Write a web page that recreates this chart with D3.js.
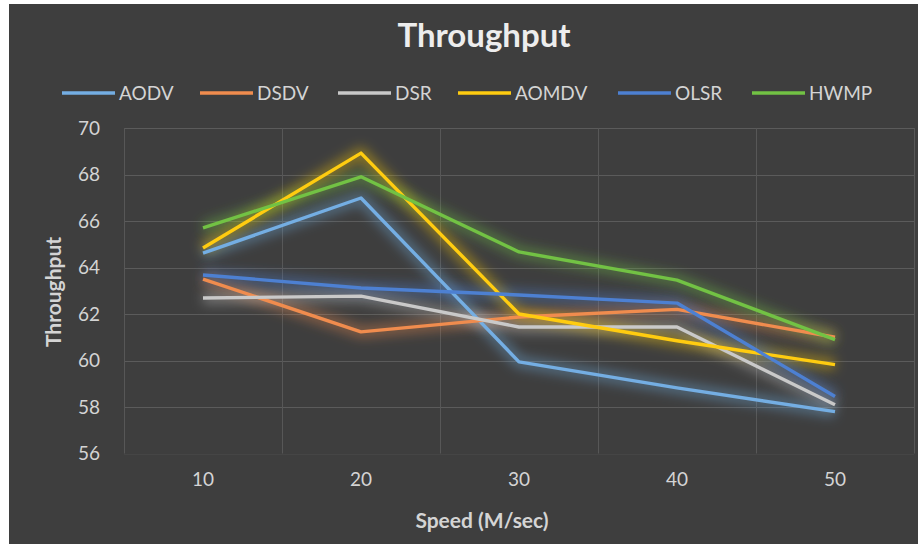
<!DOCTYPE html>
<html>
<head>
<meta charset="utf-8">
<script src="https://cdn.jsdelivr.net/npm/d3@7"></script>
<style>
html,body{margin:0;padding:0;background:#ffffff;}
svg{display:block;}
text{font-family:Lato,"Open Sans",sans-serif;}
</style>
</head>
<body>
<svg id="chart" width="918" height="546"></svg>
<script>
const categories = ["10", "20", "30", "40", "50"];
const seriesNames = ["AODV", "DSDV", "DSR", "AOMDV", "OLSR", "HWMP"];
const aodv  = [64.62, 66.99, 59.94, 58.82, 57.8];
const dsdv  = [63.5, 61.23, 61.87, 62.2, 61.0];
const dsr   = [62.69, 62.77, 61.44, 61.44, 58.1];
const aomdv = [64.84, 68.92, 62.0, 60.85, 59.82];
const olsr  = [63.68, 63.12, 62.82, 62.47, 58.45];
const hwmp  = [65.7, 67.9, 64.67, 63.46, 60.9];
const yTicks = [56, 58, 60, 62, 64, 66, 68, 70];
const colors = ["#74aee3", "#f08c4e", "#c9c9c9", "#ffcc10", "#4d80d2", "#72c244"];

const seriesValues = [aodv, dsdv, dsr, aomdv, olsr, hwmp];
const series = seriesNames.map((n, i) => ({name: n, values: seriesValues[i], color: colors[i]}));

const svg = d3.select("#chart");
const defs = svg.append("defs");
const f = defs.append("filter").attr("id", "glow")
  .attr("x", "-20%").attr("y", "-30%").attr("width", "140%").attr("height", "160%");
f.append("feGaussianBlur").attr("stdDeviation", 6);

// background
svg.append("rect").attr("x", 9).attr("y", 4).attr("width", 909).attr("height", 540)
  .attr("fill", "#3e3e3e");

const x = d3.scaleBand().domain(categories).range([124, 914]);
const y = d3.scaleLinear().domain([56, 70]).range([453.5, 128]);

// grid
const grid = svg.append("g");
grid.selectAll(".hg").data(yTicks).join("line")
  .attr("x1", 124).attr("x2", 914)
  .attr("y1", d => Math.round(y(d)) + 0.5).attr("y2", d => Math.round(y(d)) + 0.5)
  .attr("stroke", "#5b5b5b").attr("stroke-width", 1)
  .attr("stroke-opacity", d => d === 56 ? 0.25 : 1);
const vb = categories.map(c => x(c)).concat([x.range()[1]]);
grid.selectAll(".vg").data(vb).join("line")
  .attr("x1", d => Math.round(d) + 0.5).attr("x2", d => Math.round(d) + 0.5)
  .attr("y1", y(70)).attr("y2", y(56))
  .attr("stroke", "#575757").attr("stroke-width", 1);

// axes
const yAxis = d3.axisLeft(y).tickValues(yTicks).tickSize(0).tickPadding(0);
const gy = svg.append("g").attr("transform", "translate(100,0)").call(yAxis);
gy.select(".domain").remove();
gy.selectAll("text").attr("font-size", 19).attr("fill", "#d4d4d4")
  .attr("font-family", "Lato, sans-serif").attr("text-anchor", "end");

const xAxis = d3.axisBottom(x).tickSize(0).tickPadding(0);
const gx = svg.append("g").attr("transform", "translate(0,472)").call(xAxis);
gx.select(".domain").remove();
gx.selectAll("text").attr("font-size", 19).attr("fill", "#d4d4d4")
  .attr("font-family", "Lato, sans-serif");

// lines
const line = d3.line().x((d, i) => x(categories[i]) + x.bandwidth() / 2).y(d => y(d));
const lg = svg.append("g");
series.forEach(s => {
  lg.append("path").attr("d", line(s.values)).attr("fill", "none")
    .attr("stroke", s.color).attr("stroke-width", 12).attr("stroke-opacity", 0.4)
    .attr("stroke-linejoin", "round").attr("filter", "url(#glow)");
});
series.forEach(s => {
  lg.append("path").attr("d", line(s.values)).attr("fill", "none")
    .attr("stroke", s.color).attr("stroke-width", 3.4)
    .attr("stroke-linejoin", "round");
});

// title
svg.append("text").attr("x", 484).attr("y", 47).attr("text-anchor", "middle")
  .attr("font-size", 33).attr("font-weight", "bold").attr("fill", "#ededed")
  .text("Throughput");

// axis titles
svg.append("text").attr("transform", "translate(61,292) rotate(-90)")
  .attr("text-anchor", "middle").attr("font-size", 21).attr("font-weight", "bold")
  .attr("fill", "#d4d4d4").text("Throughput");
svg.append("text").attr("x", 482).attr("y", 528).attr("text-anchor", "middle")
  .attr("font-size", 21).attr("font-weight", "bold").attr("fill", "#d4d4d4")
  .text("Speed (M/sec)");

// legend
const legendX = [62, 200, 338, 458, 618, 752];
const leg = svg.append("g");
series.forEach((s, i) => {
  const g = leg.append("g").attr("transform", `translate(${legendX[i]},93)`);
  g.append("line").attr("x1", 0).attr("x2", 53).attr("y1", 0).attr("y2", 0)
    .attr("stroke", s.color).attr("stroke-width", 10).attr("stroke-opacity", 0.35)
    .attr("filter", "url(#glow)");
  g.append("line").attr("x1", 0).attr("x2", 53).attr("y1", 0).attr("y2", 0)
    .attr("stroke", s.color).attr("stroke-width", 3.4);
  g.append("text").attr("x", 57).attr("y", 7).attr("font-size", 19)
    .attr("fill", "#d4d4d4").text(s.name);
});
</script>
</body>
</html>
